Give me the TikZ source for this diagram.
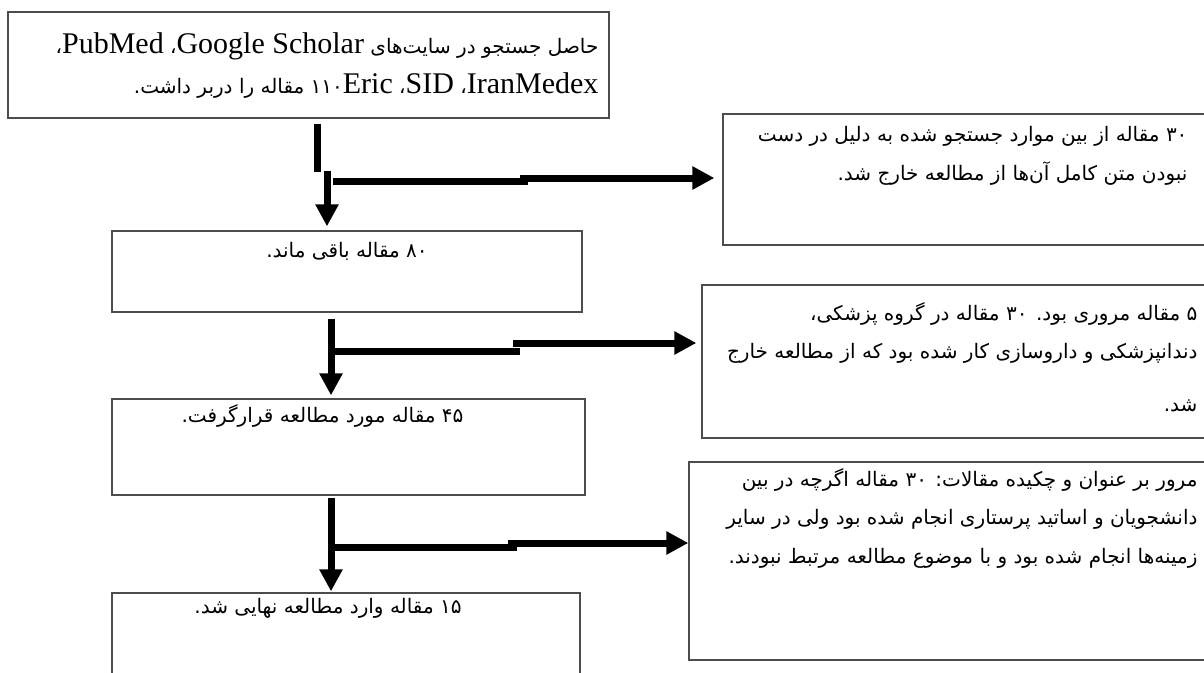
\documentclass[tikz,border=0pt]{standalone}
\usepackage{fontspec}
\setmainfont{Liberation Serif}
\newfontfamily\farsi[Script=Arabic]{DejaVu Sans}
\TeXXeTstate=1
\usetikzlibrary{arrows.meta,positioning}

\newcommand{\rtlline}[1]{\beginR #1\endR}
\newcommand{\lat}[1]{{\rmfamily\fontsize{30}{40}\selectfont #1}}

\tikzset{
  box/.style={draw=black!70, line width=1.3pt, rectangle, inner sep=0pt},
  note/.style={font=\farsi\fontsize{20}{38.5}\selectfont, align=right, inner sep=0pt},
  flow/.style={line width=7pt},
  flowarrow/.style={line width=7pt, -{Triangle[width=22pt,length=22pt]}}
}

\begin{document}
\begin{tikzpicture}[x=1pt,y=-1pt]
    \clip (0,0) rectangle (1204,672);
    \fill[white] (0,0) rectangle (1204,672);
    % main column
    \node[box, minimum width=601pt, minimum height=106pt] (search) at (308.5,65) {};
    \node[box, minimum width=470pt, minimum height=81pt] (kept) at (347,271.5) {};
    \node[box, minimum width=473pt, minimum height=96pt] (studied) at (348.5,447) {};
    \node[box, minimum width=468pt, minimum height=90pt] (final) at (346,638) {};
    % excluded articles
    \node[box, minimum width=492pt, minimum height=131pt] (ex1) at (969,179.5) {};
    \node[box, minimum width=513pt, minimum height=153pt] (ex2) at (958.5,361.5) {};
    \node[box, minimum width=526pt, minimum height=198pt] (ex3) at (952,561) {};
    % texts
    \node[note, font=\farsi\fontsize{20}{40}\selectfont, below left=21pt and 11pt of search.north east] (search-txt)
      {\rtlline{حاصل جستجو در سایت‌های \lat{\beginL Google Scholar\endL}، \lat{PubMed}،}\\
       \rtlline{\lat{IranMedex}، \lat{SID}، \lat{Eric}۱۱۰ مقاله را دربر داشت.}};
    \node[note, below=12pt of kept.north] (kept-txt) {\rtlline{۸۰ مقاله باقی ماند.}};
    \node[note, below=6pt of studied.north, xshift=-26pt] (studied-txt) {\rtlline{۴۵ مقاله مورد مطالعه قرارگرفت.}};
    \node[note, below=6pt of final.north, xshift=-18pt] (final-txt) {\rtlline{۱۵ مقاله وارد مطالعه نهایی شد.}};
    \node[note, below left=13pt and 28pt of ex1.north east] (ex1-txt)
      {\rtlline{۳۰ مقاله از بین موارد جستجو شده به دلیل در دست}\\
       \rtlline{نبودن متن کامل آن‌ها از مطالعه خارج شد.}};
    \node[note, below left=18pt and 18pt of ex2.north east] (ex2-txt)
      {\rtlline{۵ مقاله مروری بود. ۳۰ مقاله در گروه پزشکی،}\\
       \rtlline{دندانپزشکی و داروسازی کار شده بود که از مطالعه خارج}\\[14pt]
       \rtlline{شد.}};
    \node[note, below left=7pt and 18pt of ex3.north east] (ex3-txt)
      {\rtlline{مرور بر عنوان و چکیده مقالات: ۳۰ مقاله اگرچه در بین}\\
       \rtlline{دانشجویان و اساتید پرستاری انجام شده بود ولی در سایر}\\
       \rtlline{زمینه‌ها انجام شده بود و با موضوع مطالعه مرتبط نبودند.}};
    % first stage
    \coordinate (v1) at (317,172);
    \coordinate (v1b) at (327,171);
    \coordinate (h1a) at (333,181);
    \coordinate (h1) at (528,181);
    \coordinate (h1b) at (520,178);
    \draw[flow, shorten <=5pt] (search.south -| v1) -- (v1);
    \draw[flowarrow, shorten >=4pt] (v1b) -- (kept.north -| v1b);
    \draw[flow] (h1a) -- (h1);
    \draw[flowarrow, shorten >=8pt] (h1b) -- (ex1.west |- h1b);
    % second stage
    \coordinate (v2) at (331,0);
    \coordinate (h2a) at (334,351.5);
    \coordinate (h2) at (520,351.5);
    \coordinate (h2b) at (513,343);
    \draw[flowarrow, shorten <=6pt, shorten >=3pt] (kept.south -| v2) -- (studied.north -| v2);
    \draw[flow] (h2a) -- (h2);
    \draw[flowarrow, shorten >=5pt] (h2b) -- (ex2.west |- h2b);
    % third stage
    \coordinate (h3a) at (334,547);
    \coordinate (h3) at (517,547);
    \coordinate (h3b) at (508,543);
    \draw[flowarrow, shorten <=2pt, shorten >=1pt] (studied.south -| v2) -- (final.north -| v2);
    \draw[flow] (h3a) -- (h3);
    \draw[flowarrow] (h3b) -- (ex3.west |- h3b);
\end{tikzpicture}
\end{document}
